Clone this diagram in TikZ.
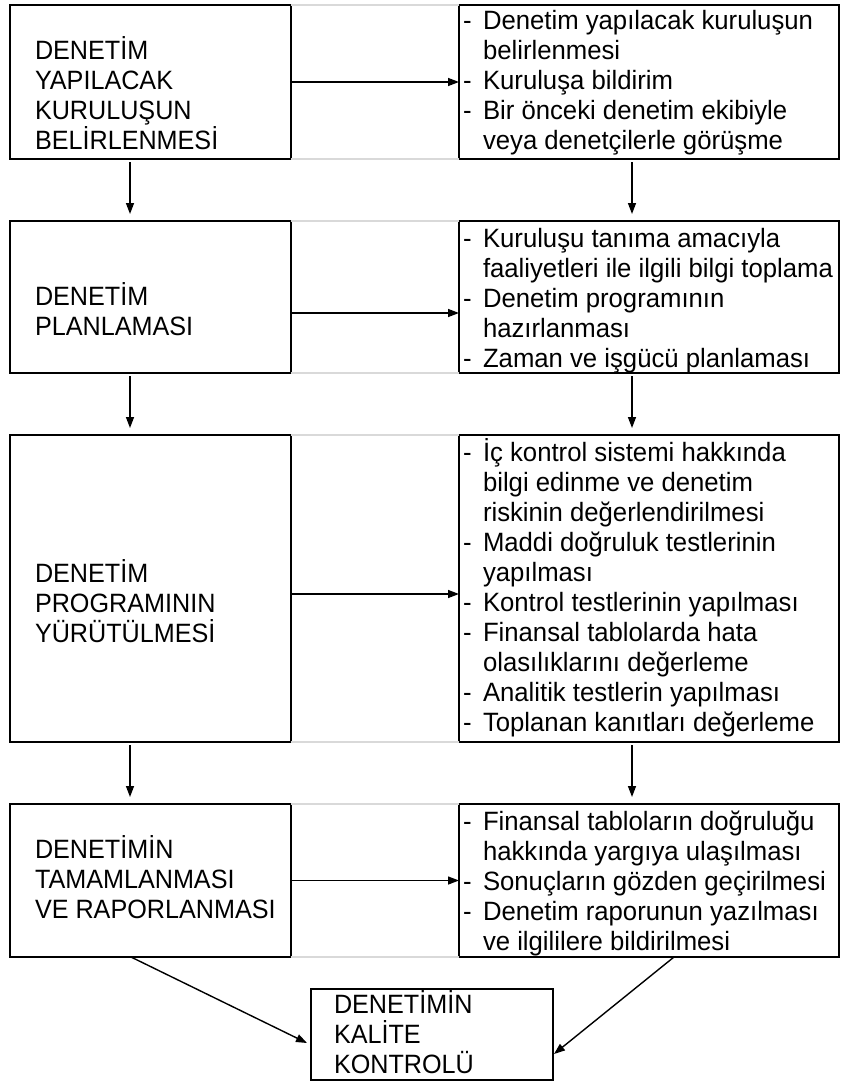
\documentclass[tikz,border=0pt]{standalone}
\usepackage{fontspec}
\setmainfont{Liberation Sans}[FakeStretch=0.97]
\newfontfamily\capsfont{Liberation Sans}[FakeStretch=0.95]
\usetikzlibrary{arrows.meta}
\newcommand\blk[1]{\vtop{\baselineskip=30pt\lineskiplimit=-1000pt\lineskip=0pt #1}}
\newcommand\itm[1]{\hbox{\makebox[20pt][l]{-}#1}}
\newcommand\cnt[1]{\hbox{\hspace*{20pt}#1}}
\newcommand\cln[1]{\hbox{#1}}
\begin{document}
\begin{tikzpicture}[x=1pt,y=-1pt,
  box/.style={draw, line width=1.8pt, inner sep=0pt, outer sep=0pt, anchor=north west},
  txt/.style={anchor=base west, inner sep=0pt, outer sep=0pt, font=\fontsize{26.5pt}{30pt}\selectfont},
  ctxt/.style={anchor=base west, inner sep=0pt, outer sep=0pt, font=\fontsize{26.5pt}{30pt}\selectfont\capsfont},
  arr/.style={line width=1.4pt, -{Triangle[length=11pt,width=8pt]}},
  faint/.style={draw=black!15, line width=1.6pt}]
\useasboundingbox (0,0) rectangle (841,1082);

% boxes
\node[box, minimum width=281pt, minimum height=154pt] (L1) at (10,5) {};
\node[box, minimum width=380pt, minimum height=154pt] (R1) at (459,5) {};
\node[box, minimum width=281pt, minimum height=152pt] (L2) at (10,221) {};
\node[box, minimum width=380pt, minimum height=152pt] (R2) at (459,221) {};
\node[box, minimum width=281pt, minimum height=307pt] (L3) at (10,435) {};
\node[box, minimum width=380pt, minimum height=307pt] (R3) at (459,435) {};
\node[box, minimum width=281pt, minimum height=153pt] (L4) at (10,804) {};
\node[box, minimum width=380pt, minimum height=153pt] (R4) at (459,804) {};
\node[box, minimum width=242pt, minimum height=91pt] (B5) at (311,989) {};

% faint guide lines between paired boxes
\foreach \i in {1,2,3,4}{
  \draw[faint] (L\i.north east) -- (R\i.north west);
  \draw[faint] (L\i.south east) -- (R\i.south west);
}

% texts
\node[ctxt] (tL1) at (35,59) {\blk{\cln{DENETİM}\cln{YAPILACAK}\cln{KURULUŞUN}\cln{BELİRLENMESİ}}};
\node[txt] (tR1) at (463,29) {\blk{\itm{Denetim yapılacak kuruluşun}\cnt{belirlenmesi}\itm{Kuruluşa bildirim}\itm{Bir önceki denetim ekibiyle}\cnt{veya denetçilerle görüşme}}};

\node[ctxt] (tL2) at (35,305) {\blk{\cln{DENETİM}\cln{PLANLAMASI}}};
\node[txt] (tR2) at (463,247) {\blk{\itm{Kuruluşu tanıma amacıyla}\cnt{faaliyetleri ile ilgili bilgi toplama}\itm{Denetim programının}\cnt{hazırlanması}\itm{Zaman ve işgücü planlaması}}};

\node[ctxt] (tL3) at (35,582) {\blk{\cln{DENETİM}\cln{PROGRAMININ}\cln{YÜRÜTÜLMESİ}}};
\node[txt] (tR3) at (463,461) {\blk{\itm{İç kontrol sistemi hakkında}\cnt{bilgi edinme ve denetim}\cnt{riskinin değerlendirilmesi}\itm{Maddi doğruluk testlerinin}\cnt{yapılması}\itm{Kontrol testlerinin yapılması}\itm{Finansal tablolarda hata}\cnt{olasılıklarını değerleme}\itm{Analitik testlerin yapılması}\itm{Toplanan kanıtları değerleme}}};

\node[ctxt] (tL4) at (35,858) {\blk{\cln{DENETİMİN}\cln{TAMAMLANMASI}\cln{VE RAPORLANMASI}}};
\node[txt] (tR4) at (463,830) {\blk{\itm{Finansal tabloların doğruluğu}\cnt{hakkında yargıya ulaşılması}\itm{Sonuçların gözden geçirilmesi}\itm{Denetim raporunun yazılması}\cnt{ve ilgililere bildirilmesi}}};

\node[ctxt] (tB5) at (334,1013) {\blk{\cln{DENETİMİN}\cln{KALİTE}\cln{KONTROLÜ}}};

% horizontal arrows
\draw[arr] (L1.east) -- (R1.west);
\draw[arr] ([yshift=-16pt]L2.east) -- ([yshift=-16pt]R2.west);
\draw[arr] ([yshift=-5.5pt]L3.east) -- ([yshift=-5.5pt]R3.west);
\draw[arr] (L4.east) -- (R4.west);

% vertical arrows
\foreach \a/\b in {1/2,2/3,3/4}{
  \draw[arr, shorten <=3pt, shorten >=7pt] ([xshift=-20.5pt]L\a.south) -- ([xshift=-20.5pt]L\b.north);
  \draw[arr, shorten <=3pt, shorten >=7pt] ([xshift=-17pt]R\a.south) -- ([xshift=-17pt]R\b.north);
}

% diagonal arrows to the quality-control box
\draw[arr] ([xshift=-19.5pt]L4.south) -- ([xshift=-4pt,yshift=-8.5pt]B5.west);
\draw[arr] ([xshift=25pt]R4.south) -- ([xshift=1pt,yshift=-19.5pt]B5.east);
\end{tikzpicture}
\end{document}
